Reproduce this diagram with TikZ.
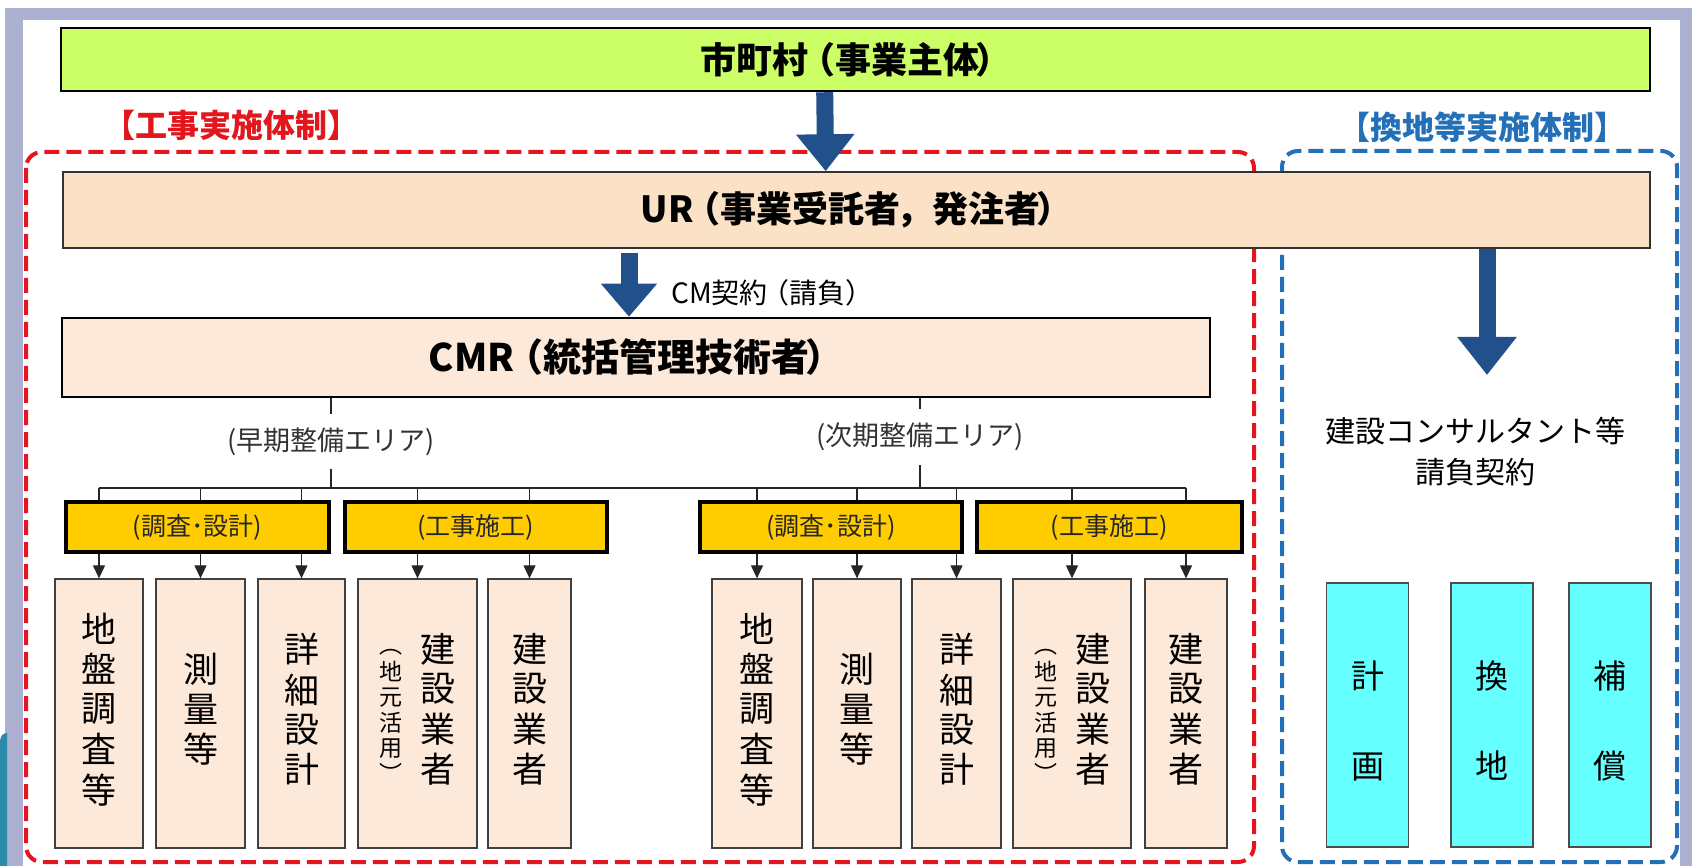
\documentclass[tikz,border=0pt]{standalone}
\usepackage{fontspec}
\setmainfont{Noto Sans CJK JP}
\usetikzlibrary{arrows.meta}

\definecolor{frame}{HTML}{ACB1D1}
\definecolor{sphere}{HTML}{2A8CA8}
\definecolor{lime}{HTML}{CCFF66}
\definecolor{peach}{HTML}{FBE1C5}
\definecolor{skin}{HTML}{FDE9D9}
\definecolor{gold}{HTML}{FFCC00}
\definecolor{aqua}{HTML}{66FFFF}
\definecolor{navy}{HTML}{21508A}
\definecolor{redline}{HTML}{E3161E}
\definecolor{blueline}{HTML}{2370B8}

\newcommand{\tate}[1]{\begin{tabular}[c]{@{}c@{}}#1\end{tabular}}

\begin{document}
\begin{tikzpicture}[x=1pt, y=-1pt,
  bigarrow/.style={navy, line width=17pt, -{Triangle[width=56pt, length=37pt]}},
  thinline/.style={black!85, line width=1.2pt},
  droparrow/.style={thinline, -{Triangle[width=12pt, length=13pt]}},
  headbox/.style={inner sep=0pt, font=\fontsize{36}{40}\selectfont\bfseries},
  tallbox/.style={draw=black!75, line width=1.3pt, fill=skin, minimum width=#1, minimum height=269pt, inner sep=0pt, font=\fontsize{35}{37}\selectfont},
  work/.style={draw=black, line width=4pt, fill=gold, minimum width=#1, minimum height=50pt, inner sep=0pt, text=black!85, font=\fontsize{25}{30}\selectfont},
  arealbl/.style={fill=white, inner xsep=2pt, inner ysep=14pt, text=black!80, font=\fontsize{27}{30}\selectfont},
  plan/.style={draw=black!70, line width=1.3pt, fill=aqua, minimum width=82pt, minimum height=264pt, inner sep=0pt, font=\fontsize{33}{90}\selectfont}]

\useasboundingbox (0,0) rectangle (1692,866);

% frame
\fill[frame] (5,8) rectangle (1692,20);
\fill[frame] (5,8) rectangle (22.5,866);
\fill[frame] (1680,8) rectangle (1692,866);
\fill[sphere] (0,866) -- (0,742) .. controls (0,736) and (3,733) .. (7,733) -- (7,866) -- cycle;

% dashed areas
\draw[redline, line width=4pt, dash pattern=on 15pt off 7pt, rounded corners=16pt] (26,152) rectangle (1254,862);
\draw[blueline, line width=4pt, dash pattern=on 15pt off 7pt, rounded corners=16pt] (1282,151) rectangle (1677,862);
\node[font=\fontsize{32}{36}\selectfont\bfseries, text=redline] (koji) at (231,125) {【工事実施体制】};
\node[font=\fontsize{32}{36}\selectfont\bfseries, text=blueline] (kanchi) at (1482,127) {【換地等実施体制】};

% top boxes
\node[draw=black, line width=2.5pt, fill=lime, minimum width=1589pt, minimum height=63pt, headbox] (city) at (855.7,59.5) {市町村\kern-9pt（事業主体\kern-4pt）};
\node[draw=black!80, line width=1.5pt, fill=peach, minimum width=1587pt, minimum height=76pt, headbox] (ur) at (856.7,210) {UR\kern-9pt（事業受託者\kern-4pt，発注者\kern-4pt）};
\draw[bigarrow] ([xshift=-31pt]city.south) -- ([xshift=-31pt]ur.north);

\node[draw=black, line width=2.5pt, fill=skin, minimum width=1148pt, minimum height=79pt, headbox, font=\fontsize{38}{42}\selectfont\bfseries] (cmr) at (636.2,357.5) {CMR\kern-9pt（統括管理技術者\kern-4pt）};
\coordinate (cmto) at (629,253);
\draw[bigarrow, -{Triangle[width=54pt, length=33pt]}] (cmto) -- (cmto |- cmr.north);
\node[anchor=west, inner sep=0pt, font=\fontsize{28}{32}\selectfont] (cmlbl) at (671,293) {CM契約\kern-6pt（請負）};

% right side
\node[align=center, font=\fontsize{30}{41}\selectfont] (consult) at (1475,451.5) {建設コンサルタント等\\請負契約};
\coordinate (a3) at (1487,375);
\draw[bigarrow, -{Triangle[width=57pt, length=38pt]}] (ur.south -| a3) -- (a3);

% tall boxes
\node[tallbox=88pt] (b1) at (99,713.5) {\tate{地\\盤\\調\\査\\等}};
\node[tallbox=89pt] (b2) at (200.5,713.5) {\tate{測\\量\\等}};
\node[tallbox=87pt] (b3) at (301.5,713.5) {\tate{詳\\細\\設\\計}};
\node[tallbox=119pt] (b4) at (417.5,713.5) {{\fontsize{23}{24}\selectfont\tate{︵\\地\\元\\活\\用\\︶}}\hspace{18pt}\tate{建\\設\\業\\者}};
\node[tallbox=83pt] (b5) at (529.5,713.5) {\tate{建\\設\\業\\者}};
\node[tallbox=90pt] (b6) at (757,713.5) {\tate{地\\盤\\調\\査\\等}};
\node[tallbox=88pt] (b7) at (857,713.5) {\tate{測\\量\\等}};
\node[tallbox=89pt] (b8) at (956.5,713.5) {\tate{詳\\細\\設\\計}};
\node[tallbox=118pt] (b9) at (1072,713.5) {{\fontsize{23}{24}\selectfont\tate{︵\\地\\元\\活\\用\\︶}}\hspace{18pt}\tate{建\\設\\業\\者}};
\node[tallbox=82pt] (b10) at (1186,713.5) {\tate{建\\設\\業\\者}};

% tree lines
\coordinate (bus) at (0,488);
\coordinate (e1) at (331,441.5);
\coordinate (e2) at (920,437);
\draw[thinline] (b1.north |- bus) -- (b10.north |- bus);
\draw[thinline] (cmr.south -| e1) -- (e1 |- bus);
\draw[thinline] (cmr.south -| e2) -- (e2 |- bus);
\draw[droparrow] (b1.north |- bus) -- (b1.north);
\draw[droparrow] (b2.north |- bus) -- (b2.north);
\draw[droparrow] (b3.north |- bus) -- (b3.north);
\draw[droparrow] (b4.north |- bus) -- (b4.north);
\draw[droparrow] (b5.north |- bus) -- (b5.north);
\draw[droparrow] (b6.north |- bus) -- (b6.north);
\draw[droparrow] (b7.north |- bus) -- (b7.north);
\draw[droparrow] (b8.north |- bus) -- (b8.north);
\draw[droparrow] (b9.north |- bus) -- (b9.north);
\draw[droparrow] (b10.north |- bus) -- (b10.north);

\node[work=262.6pt] (y1) at (197.3,527) {(調査･設計)};
\node[work=262pt] (y2) at (475.7,527) {(工事施工)};
\node[work=262pt] (y3) at (831,527) {(調査･設計)};
\node[work=264.6pt] (y4) at (1109.3,527) {(工事施工)};

\node[arealbl] (early) at (e1) {(早期整備エリア)};
\node[arealbl] (next) at (e2) {(次期整備エリア)};

% kanchi boxes
\node[plan] (c1) at (1367.5,715) {\tate{計\\画}};
\node[plan] (c2) at (1492,715) {\tate{換\\地}};
\node[plan] (c3) at (1610,715) {\tate{補\\償}};

\end{tikzpicture}
\end{document}
